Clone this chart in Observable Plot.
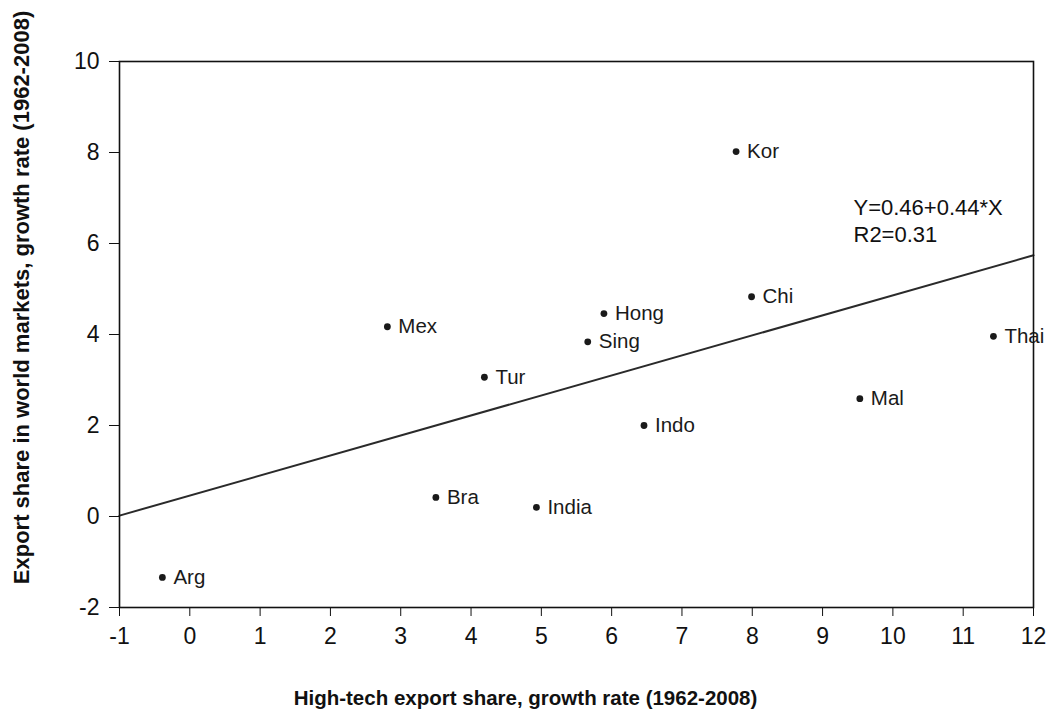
<!DOCTYPE html>
<html>
<head>
<meta charset="utf-8">
<script src="https://cdn.jsdelivr.net/npm/d3@7"></script>
<script src="https://cdn.jsdelivr.net/npm/@observablehq/plot@0.6"></script>
<style>
  html, body { margin: 0; padding: 0; background: #fff; }
  #chart svg { font-family: "Liberation Sans", Arial, sans-serif; }
</style>
</head>
<body>
<div id="chart"></div>
<script>
// Data
const countries = ["Arg", "Bra", "India", "Mex", "Tur", "Sing", "Hong", "Indo", "Kor", "Chi", "Mal", "Thai"];
const hiTechGrowth = [-0.39, 3.50, 4.93, 2.81, 4.19, 5.66, 5.89, 6.46, 7.77, 7.99, 9.53, 11.43];
const exportShareGrowth = [-1.34, 0.42, 0.20, 4.17, 3.06, 3.84, 4.46, 2.00, 8.02, 4.83, 2.59, 3.96];

// Fitted line Y = 0.46 + 0.44*X, endpoints at the x-domain edges
const fitX = [-1, 12];
const fitY = [0.02, 5.74];

const xTicks = [-1, 0, 1, 2, 3, 4, 5, 6, 7, 8, 9, 10, 11, 12];
const yTicks = [-2, 0, 2, 4, 6, 8, 10];

const xTitle = "High-tech export share, growth rate (1962-2008)";
const yTitle = "Export share in world markets, growth rate (1962-2008)";
const annotation = ["Y=0.46+0.44*X", "R2=0.31"];

const points = countries.map((c, i) => ({name: c, x: hiTechGrowth[i], y: exportShareGrowth[i]}));
const fit = fitX.map((x, i) => ({x, y: fitY[i]}));

const chart = Plot.plot({
  width: 1050,
  height: 717,
  marginLeft: 119,
  marginRight: 17,
  marginTop: 61,
  marginBottom: 110,
  style: {fontFamily: '"Liberation Sans", Arial, sans-serif', background: "#fff", color: "#111"},
  x: {domain: [-1, 12]},
  y: {domain: [-2, 10]},
  marks: [
    Plot.axisX({ticks: xTicks, tickSize: 9, tickPadding: 11, fontSize: 23, label: null, tickFormat: d => String(d), stroke: "#111"}),
    Plot.axisY({ticks: yTicks, tickSize: 10, tickPadding: 10, fontSize: 23, label: null, tickFormat: d => String(d), stroke: "#111"}),
    Plot.line(fit, {x: "x", y: "y", stroke: "#2a2a2a", strokeWidth: 2}),
    Plot.dot(points, {x: "x", y: "y", r: 3.4, fill: "#1a1a1a", stroke: null}),
    Plot.text(points, {x: "x", y: "y", text: "name", dx: 11, textAnchor: "start", lineAnchor: "middle", fontSize: 20.5, fill: "#1a1a1a", clip: false}),
    Plot.frame({stroke: "#111", strokeWidth: 1.6}),
    Plot.text([annotation.join("\n")], {frameAnchor: "top-left", dx: 734, dy: 135, textAnchor: "start", lineAnchor: "top", lineHeight: 1.21, fontSize: 22, fill: "#111"}),
    Plot.text([xTitle], {frameAnchor: "bottom", dx: -51, dy: 97, textAnchor: "middle", lineAnchor: "bottom", fontSize: 20.5, fontWeight: "bold", fill: "#111"}),
    Plot.text([yTitle], {frameAnchor: "left", dx: -98, dy: -37, rotate: -90, textAnchor: "middle", lineAnchor: "middle", fontSize: 22, fontWeight: "bold", fill: "#111"})
  ]
});

document.getElementById("chart").append(chart);
</script>
</body>
</html>
